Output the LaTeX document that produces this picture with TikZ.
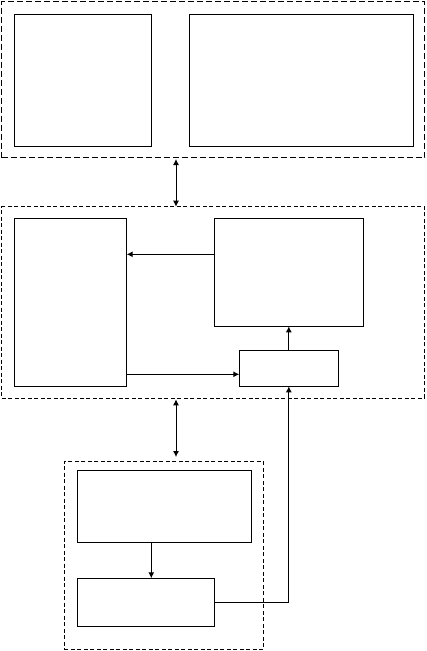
\documentclass[tikz,border=0pt]{standalone}
\usetikzlibrary{arrows.meta}
\begin{document}
\begin{tikzpicture}[x=1pt,y=-1pt,
  blk/.style={draw,line width=1pt,inner sep=0pt,outer sep=0pt},
  grpthick/.style={draw,line width=1.8pt,dash pattern=on 6pt off 3pt,inner sep=0pt,outer sep=0pt},
  grpthin/.style={draw,line width=1pt,dash pattern=on 4pt off 2.5pt,inner sep=0pt,outer sep=0pt},
  conn/.style={line width=1pt,-{Latex[length=6pt,width=6pt]}},
  biconn/.style={line width=1pt,{Latex[length=6pt,width=6pt]}-{Latex[length=6pt,width=6pt]}}]
\useasboundingbox (0,0) rectangle (426,651);
% groups
\node[grpthick,minimum width=423pt,minimum height=156pt] (T) at (213,79.5) {};
\node[grpthin,minimum width=422.5pt,minimum height=191.6pt] (M) at (213.2,302.5) {};
\node[grpthin,minimum width=199pt,minimum height=188.5pt] (L) at (163.8,555.3) {};
% blocks
\node[blk,minimum width=137.4pt,minimum height=131.7pt] (T1) at (83,80.2) {};
\node[blk,minimum width=223.8pt,minimum height=131.7pt] (T2) at (301.4,80.2) {};
\node[blk,minimum width=112.4pt,minimum height=168pt] (A) at (70.5,302.3) {};
\node[blk,minimum width=149pt,minimum height=108pt] (B) at (288.8,272.3) {};
\node[blk,minimum width=99pt,minimum height=36pt] (C) at (288.8,368.3) {};
\node[blk,minimum width=174pt,minimum height=72pt] (D1) at (164.3,506.3) {};
\node[blk,minimum width=137pt,minimum height=48pt] (D2) at (145.8,602.3) {};
% helper coordinates
\coordinate (ax) at (176,0);
\coordinate (dx) at (151.3,0);
\coordinate (ya) at (0,254.3);
\coordinate (yc) at (0,374.3);
% connectors
\draw[biconn,shorten <=1.5pt] (T.south -| ax) -- (M.north -| ax);
\draw[biconn,shorten <=1pt,shorten >=4pt] (M.south -| ax) -- (L.north -| ax);
\draw[conn] (B.west |- ya) -- (A.east |- ya);
\draw[conn] (A.east |- yc) -- (C.west |- yc);
\draw[conn] (C.north) -- (B.south);
\draw[conn] (D1.south -| dx) -- (D2.north -| dx);
\draw[conn] (D2.east) -| (C.south);
\end{tikzpicture}
\end{document}
